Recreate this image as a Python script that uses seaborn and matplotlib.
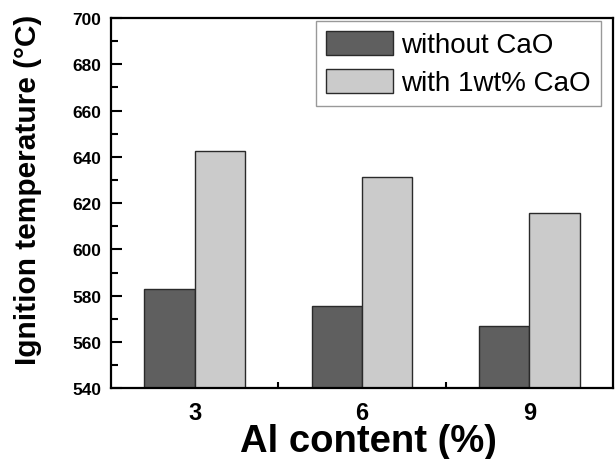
import matplotlib
matplotlib.use("Agg")
import matplotlib.pyplot as plt
import seaborn as sns
import pandas as pd
from matplotlib.ticker import MultipleLocator, FixedLocator

categories = ["3", "6", "9"]
without_cao = [582.7, 575.5, 566.8]
with_cao = [642.4, 631.4, 615.8]
series_names = ["without CaO", "with 1wt% CaO"]
colors = ["#5f5f5f", "#cbcbcb"]

df = pd.DataFrame({
    "Al": categories * 2,
    "T": without_cao + with_cao,
    "series": [series_names[0]] * 3 + [series_names[1]] * 3,
})

sns.set_theme(style="ticks")
plt.rcParams["font.family"] = ["Liberation Sans", "DejaVu Sans"]
plt.rcParams.update({"text.color": "black", "axes.labelcolor": "black",
                     "xtick.color": "black", "ytick.color": "black"})

fig = plt.figure(figsize=(6.15, 4.6), dpi=100)
ax = fig.add_axes([0.1805, 0.1537, 0.8162, 0.805])

sns.barplot(data=df, x="Al", y="T", hue="series", palette=colors,
            width=0.6, edgecolor="#2a2a2a", linewidth=1.0, ax=ax,
            saturation=1, errorbar=None)

ax.set_ylim(540, 700)
ax.set_xlim(-0.5, 2.5)
ax.yaxis.set_major_locator(MultipleLocator(20))
ax.yaxis.set_minor_locator(MultipleLocator(10))
ax.xaxis.set_minor_locator(FixedLocator([0.5, 1.5]))

for s in ax.spines.values():
    s.set_visible(True)
    s.set_linewidth(1.6)
    s.set_color("black")

ax.tick_params(axis="y", which="major", direction="in", length=8, width=1.5,
               labelsize=12.5, pad=7, colors="black")
ax.tick_params(axis="y", which="minor", direction="in", length=5, width=1.5,
               colors="black")
ax.tick_params(axis="x", which="major", direction="in", length=4, width=1.5,
               labelsize=17, pad=9.5, colors="black")
ax.tick_params(axis="x", which="minor", direction="in", length=4, width=1.5,
               colors="black")
for lab in ax.get_xticklabels() + ax.get_yticklabels():
    lab.set_fontweight("bold")

ax.set_xlabel("Al content (%)", fontsize=27.5, fontweight="bold", color="black")
ax.set_ylabel("Ignition temperature (°C)", fontsize=21.5, fontweight="bold",
              color="black")
ax.xaxis.set_label_coords(0.512, -0.094)
ax.yaxis.set_label_coords(-0.137, 0.538)

leg = ax.legend(loc="upper right", bbox_to_anchor=(0.976, 0.992), fontsize=20,
                frameon=True, fancybox=False, edgecolor="#808080",
                handlelength=2.4, handleheight=0.94, labelspacing=0.38,
                handletextpad=0.3, borderpad=0.36, borderaxespad=0.0)
leg.get_frame().set_linewidth(1.0)
for t in leg.get_texts():
    t.set_color("black")

fig.savefig("out.png", dpi=100)
